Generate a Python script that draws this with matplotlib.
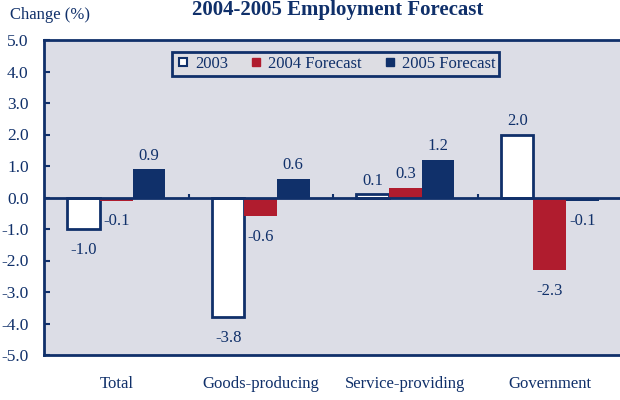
import matplotlib
matplotlib.use("Agg")
import matplotlib.pyplot as plt
from matplotlib.lines import Line2D
import numpy as np

categories = ["Total", "Goods-producing", "Service-providing", "Government"]
series_names = ["2003", "2004 Forecast", "2005 Forecast"]
values_2003 = [-1.0, -3.8, 0.1, 2.0]
values_2004 = [-0.1, -0.6, 0.3, -2.3]
values_2005 = [0.9, 0.6, 1.2, -0.1]
y_ticks = [5.0, 4.0, 3.0, 2.0, 1.0, 0.0, -1.0, -2.0, -3.0, -4.0, -5.0]

NAVY = "#10306a"
RED = "#b01c2e"
BG = "#dcdde6"

plt.rcParams['font.family'] = ['Liberation Serif', 'DejaVu Serif']

fig = plt.figure(figsize=(6.2, 4.0), dpi=100)
ax = fig.add_axes([44/620, 45/400, 578/620, 315/400])
ax.set_facecolor(BG)

x = np.arange(len(categories))
w = 0.225
series = [values_2003, values_2004, values_2005]
faces = ["white", RED, NAVY]
edges = [NAVY, RED, NAVY]
lws = [2.0, 0, 0]
for i, (vals, fc, ec, lw) in enumerate(zip(series, faces, edges, lws)):
    xs = x + (i - 1) * w
    ax.bar(xs, vals, width=w, color=fc, edgecolor=ec, linewidth=lw, zorder=3)
    for xi, v in zip(xs, vals):
        if v >= 0:
            ax.annotate(f"{v:.1f}", (xi, v), xytext=(0, 4), textcoords="offset points",
                        ha="center", va="bottom", fontsize=12, color=NAVY)
        else:
            ax.annotate(f"{v:.1f}", (xi, v), xytext=(0, -15), textcoords="offset points",
                        ha="center", va="center", fontsize=12, color=NAVY)

ax.axhline(0, color=NAVY, lw=2, zorder=4)
ax.vlines([0.5, 1.5, 2.5], 0, 0.12, color=NAVY, lw=1.5, zorder=4)

ax.set_xlim(-0.5, 3.5)
ax.set_ylim(-5, 5)
ax.set_yticks(y_ticks)
ax.set_yticklabels([f"{t:.1f}" for t in y_ticks])
ax.set_xticks(x)
ax.set_xticklabels(categories)
ax.tick_params(axis='y', direction='in', length=4, width=1.5, color=NAVY,
               labelcolor=NAVY, labelsize=12.5, pad=11)
ax.tick_params(axis='x', length=0, labelcolor=NAVY, labelsize=12, pad=15)
for s in ax.spines.values():
    s.set_color(NAVY)
    s.set_linewidth(2)

handles = [
    Line2D([], [], marker='s', linestyle='none', markersize=6, markerfacecolor='white',
           markeredgecolor=NAVY, markeredgewidth=1.5),
    Line2D([], [], marker='s', linestyle='none', markersize=6, markerfacecolor=RED,
           markeredgecolor=RED),
    Line2D([], [], marker='s', linestyle='none', markersize=6, markerfacecolor=NAVY,
           markeredgecolor=NAVY),
]
leg = ax.legend(handles, series_names, loc='center', bbox_to_anchor=(0.505, 0.924),
                ncol=3, fontsize=12, frameon=True, fancybox=False,
                handlelength=0.8, handletextpad=0.3, columnspacing=1.3,
                borderpad=0.25, labelcolor=NAVY)
leg.get_frame().set_edgecolor(NAVY)
leg.get_frame().set_linewidth(2)
leg.get_frame().set_facecolor("#dddde3")
leg.get_frame().set_alpha(1)

fig.text(10/620, 1 - 15/400, "Change (%)", fontsize=12, color=NAVY, ha='left', va='center')
fig.text(338/620, 1 - 10/400, "2004-2005 Employment Forecast", fontsize=15, fontweight='bold',
         color=NAVY, ha='center', va='center')

fig.savefig("out.png", dpi=100)
